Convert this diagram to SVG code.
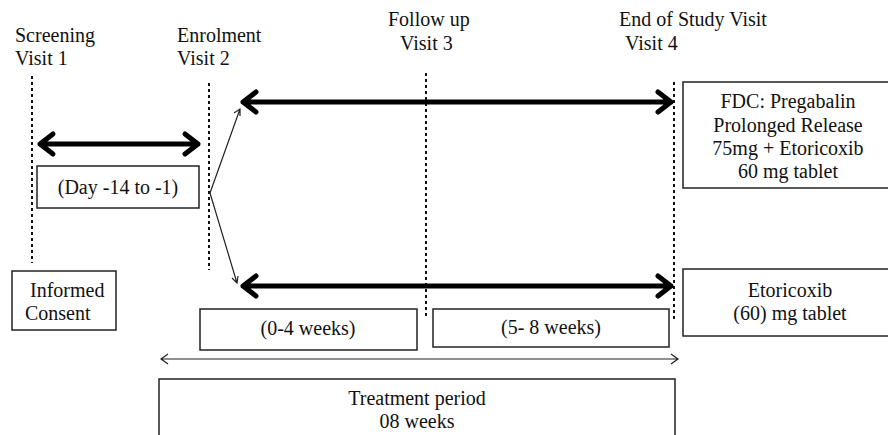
<svg xmlns="http://www.w3.org/2000/svg" width="888" height="435" viewBox="0 0 888 435">
<style>
text{font-family:"Liberation Serif","Times New Roman",serif;font-size:20px;fill:#111}
.c{text-anchor:middle}
.box{fill:#fff;stroke:#222;stroke-width:1.5}
.dash{stroke:#111;stroke-width:2;stroke-dasharray:3,3}
.thick{stroke:#000;stroke-width:5;fill:none;stroke-linecap:round;stroke-linejoin:round}
.thin{stroke:#222;stroke-width:1.2;fill:none}
</style>
<rect width="888" height="435" fill="#fff"/>
<g id="labels">
<text x="15" y="42">Screening</text><text x="15" y="65">Visit 1</text>
<text x="177" y="42">Enrolment</text><text x="177" y="65">Visit 2</text>
<text x="388" y="26">Follow up</text><text x="400" y="50">Visit 3</text>
<text x="619" y="26">End of Study Visit</text><text x="625" y="50">Visit 4</text>
</g>
<g id="connectors">
<line class="dash" x1="32" y1="76" x2="32" y2="263"/>
<line class="dash" x1="209" y1="83" x2="209" y2="270"/>
<line class="dash" x1="426" y1="73" x2="426" y2="319"/>
<line class="dash" x1="674" y1="82" x2="674" y2="322"/>
<path class="thick" d="M40 144H198M53 134L40 144L53 154M185 134L198 144L185 154"/>
<path class="thick" d="M243 102H671M256 92L243 102L256 112M658 92L671 102L658 112"/>
<path class="thick" d="M243 286H671M256 276L243 286L256 296M658 276L671 286L658 296"/>
<path class="thin" d="M210 193L240 109M234 113L240 109L240 116"/>
<path class="thin" d="M210 193L237 283M232 278L237 283L238 276"/>
<path class="thin" d="M161 359H678M168 354L161 359L168 364M671 354L678 359L671 364"/>
</g>
<g id="day"><rect class="box" x="37" y="166" width="162" height="42"/><text class="c" x="118" y="194">(Day -14 to -1)</text></g>
<g id="consent"><rect class="box" x="12" y="271" width="104" height="59"/><text x="30" y="297">Informed</text><text x="25" y="320">Consent</text></g>
<g id="w04"><rect class="box" x="200" y="309" width="217" height="41"/><text class="c" x="308" y="335">(0-4 weeks)</text></g>
<g id="w58"><rect class="box" x="433" y="309" width="236" height="38"/><text class="c" x="551" y="334">(5- 8 weeks)</text></g>
<g id="treat"><rect class="box" x="159" y="379" width="516" height="70"/><text class="c" x="417" y="405">Treatment period</text><text class="c" x="417" y="428">08 weeks</text></g>
<g id="fdc"><rect class="box" x="683" y="82" width="215" height="106"/><text class="c" x="788" y="108">FDC: Pregabalin</text><text class="c" x="788" y="132">Prolonged Release</text><text class="c" x="788" y="155">75mg + Etoricoxib</text><text class="c" x="788" y="178">60 mg tablet</text></g>
<g id="etor"><rect class="box" x="683" y="269" width="215" height="67"/><text class="c" x="790" y="297">Etoricoxib</text><text class="c" x="790" y="320">(60) mg tablet</text></g>
</svg>
